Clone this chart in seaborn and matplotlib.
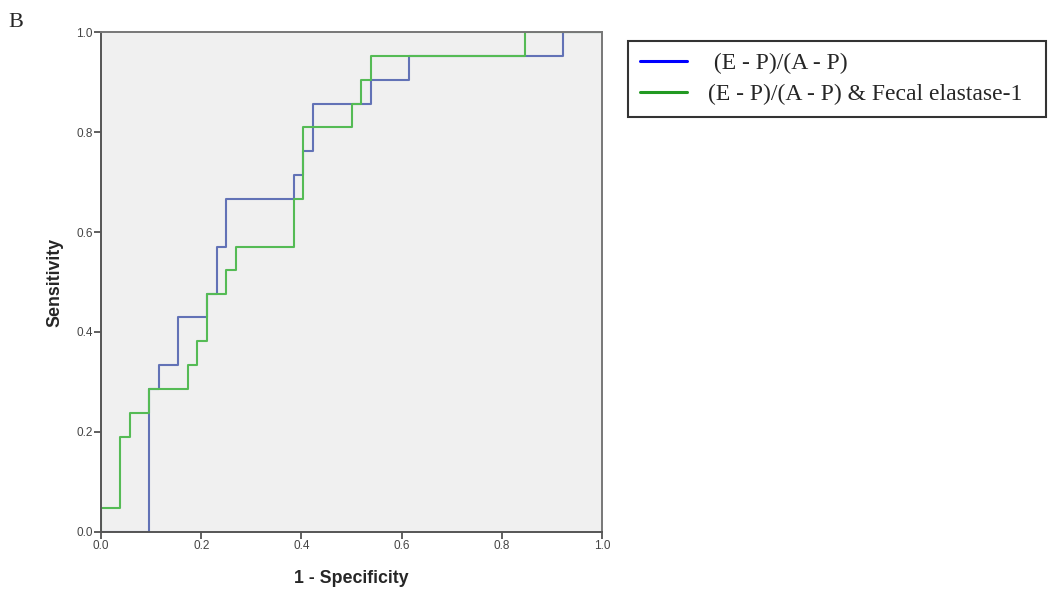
import matplotlib
matplotlib.use("Agg")
import matplotlib.pyplot as plt
import seaborn as sns
import pandas as pd

# ROC step corners (1 - specificity, sensitivity)
fpr_ratio = [0.0, 0.096, 0.115, 0.154, 0.212, 0.231, 0.25, 0.385, 0.404,
             0.423, 0.538, 0.615, 0.923, 1.0]
tpr_ratio = [0.0, 0.286, 0.333, 0.429, 0.476, 0.571, 0.667, 0.714, 0.762,
             0.857, 0.905, 0.952, 1.0, 1.0]

fpr_combo = [0.0, 0.0, 0.038, 0.058, 0.096, 0.173, 0.192, 0.212, 0.25,
             0.269, 0.385, 0.404, 0.5, 0.519, 0.538, 0.846, 1.0]
tpr_combo = [0.0, 0.048, 0.190, 0.238, 0.286, 0.333, 0.381, 0.476, 0.524,
             0.571, 0.667, 0.810, 0.857, 0.905, 0.952, 1.0, 1.0]

label_ratio = " (E - P)/(A - P)"
label_combo = "(E - P)/(A - P) & Fecal elastase-1"
ticks = [0.0, 0.2, 0.4, 0.6, 0.8, 1.0]

sns.set_style("white")
plt.rcParams['font.family'] = ['Liberation Sans', 'DejaVu Sans']

fig = plt.figure(figsize=(10.49, 5.92), dpi=100)
ax = fig.add_axes([0.0963, 0.1014, 0.4776, 0.8445])
ax.set_facecolor('#f0f0f0')

df_ratio = pd.DataFrame({'fpr': fpr_ratio, 'tpr': tpr_ratio})
df_combo = pd.DataFrame({'fpr': fpr_combo, 'tpr': tpr_combo})

sns.lineplot(data=df_ratio, x='fpr', y='tpr', sort=False, estimator=None,
             drawstyle='steps-post', color='#6272b6', linewidth=1.5, ax=ax)
sns.lineplot(data=df_combo, x='fpr', y='tpr', sort=False, estimator=None,
             drawstyle='steps-post', color='#55bb55', linewidth=1.5, ax=ax)

ax.set_xlim(0, 1)
ax.set_ylim(0, 1)
ax.set_xticks(ticks)
ax.set_yticks(ticks)
ax.set_xticklabels([f"{t:.1f}" for t in ticks])
ax.set_yticklabels([f"{t:.1f}" for t in ticks])
ax.tick_params(axis='both', direction='out', length=5, width=1.2,
               color='#444444', labelsize=8.5, labelcolor='#444444', pad=1,
               bottom=True, left=True)
for side in ['left', 'bottom']:
    ax.spines[side].set_color('#555555')
    ax.spines[side].set_linewidth(1.4)
for side in ['top', 'right']:
    ax.spines[side].set_color('#777777')
    ax.spines[side].set_linewidth(1.4)

ax.set_xlabel('1 - Specificity', fontsize=12.8, fontweight='bold', labelpad=13)
ax.set_ylabel('Sensitivity', fontsize=12.8, fontweight='bold', labelpad=9)

# legend sits outside the plot, with pure colours like the original figure
handles = [plt.Line2D([], [], color='#0000ff', linewidth=2.2),
           plt.Line2D([], [], color='#229922', linewidth=2.2)]
leg = fig.legend(handles, [label_ratio, label_combo], loc='upper left',
                 bbox_to_anchor=(628 / 1049, 1 - 117 / 592, 418 / 1049, 76 / 592),
                 mode='expand', frameon=True, fancybox=False,
                 prop={'family': 'Liberation Serif', 'size': 17},
                 handlelength=2.0, handletextpad=0.9, borderpad=0.5,
                 labelspacing=0.39, borderaxespad=0)
leg.get_frame().set_edgecolor('black')
leg.get_frame().set_linewidth(1.5)

fig.text(0.008, 0.955, 'B', fontsize=16, family='Liberation Serif')

fig.savefig('out.png', dpi=100)
